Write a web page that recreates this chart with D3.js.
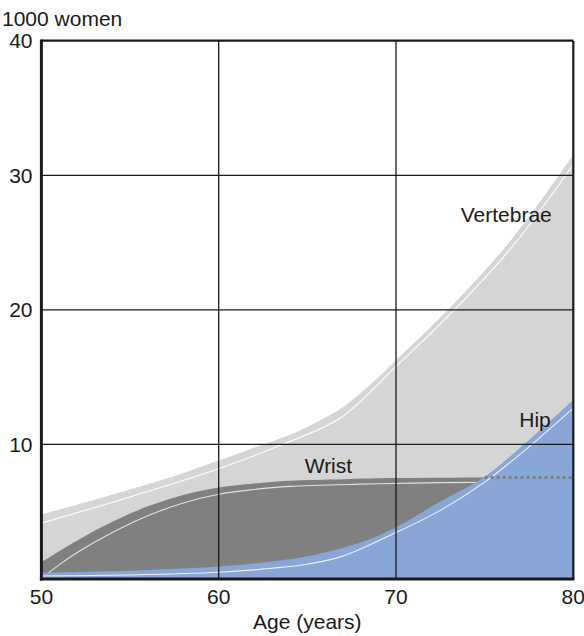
<!DOCTYPE html>
<html>
<head>
<meta charset="utf-8">
<script src="https://cdn.jsdelivr.net/npm/d3@7/dist/d3.min.js"></script>
<style>
  html, body { margin: 0; padding: 0; background: #fff; }
  svg text { font-family: "Liberation Sans", Arial, Helvetica, sans-serif; fill: #1a1a1a; }
</style>
</head>
<body>
<svg id="chart" width="584" height="636"></svg>
<script>
// ---- data ----
const vertebraeAges   = [50, 52.5, 55, 57.5, 60, 62, 63.5, 65, 66.3, 67.2, 69.1, 70, 73, 76.5, 80];
const vertebraeValues = [4.8, 5.7, 6.65, 7.65, 8.8, 9.75, 10.45, 11.3, 12.2, 12.95, 15.1, 16.25, 20.1, 25.2, 31.5];
const vertebraeHiAges   = [50, 55, 60, 63.5, 66.9, 70, 73, 76.5, 80];
const vertebraeHiValues = [4.15, 6.1, 8.2, 9.95, 12.0, 15.8, 19.6, 24.6, 30.8];

const wristAges   = [50, 52, 54, 56, 58, 60, 62, 64, 67, 70, 75, 80];
const wristValues = [1.25, 2.85, 4.25, 5.4, 6.25, 6.8, 7.1, 7.3, 7.42, 7.5, 7.55, 7.55];
const wristHiAges   = [50, 51, 52, 54, 56, 58, 60, 62, 64, 68, 72.5, 80];
const wristHiValues = [0.05, 1.05, 1.95, 3.45, 4.7, 5.65, 6.3, 6.65, 6.88, 7.05, 7.16, 7.22];
const wristProjectedFrom = 75;

const hipAges   = [50, 55, 60, 63, 65.4, 68.2, 70, 72.5, 75, 77.3, 80];
const hipValues = [0.47, 0.62, 0.92, 1.3, 1.78, 2.8, 3.85, 5.75, 7.6, 10.1, 13.3];
const hipHiAges   = [50, 55, 60, 63, 65, 67, 70, 72.5, 75, 77.3, 80];
const hipHiValues = [0.22, 0.3, 0.5, 0.8, 1.1, 1.7, 3.45, 5.1, 7.2, 9.6, 12.7];

const xTicks = [50, 60, 70, 80];
const yTicks = [10, 20, 30, 40];
const yUnitLabel = "1000 women";
const xAxisTitle = "Age (years)";
const seriesLabels = [
  {name: "Vertebrae", age: 73.65, value: 26.5},
  {name: "Wrist", age: 64.85, value: 7.9},
  {name: "Hip", age: 76.95, value: 11.27}
];

// ---- layout ----
const svg = d3.select("#chart");
const pLeft = 41.4, pRight = 573.3, pTop = 40.7, pBottom = 579;
const x = d3.scaleLinear().domain([50, 80]).range([pLeft, pRight]);
const y = d3.scaleLinear().domain([0, 40]).range([pBottom, pTop]);

const zip = (a, v) => a.map((d, i) => ({age: d, v: v[i]}));
const curve = d3.curveCatmullRom.alpha(0.5);
const area = d3.area().x(d => x(d.age)).y0(y(0)).y1(d => y(d.v)).curve(curve);
const line = d3.line().x(d => x(d.age)).y(d => y(d.v)).curve(curve);

svg.append("defs").append("clipPath").attr("id", "plotClip")
  .append("rect").attr("x", pLeft).attr("y", pTop).attr("width", pRight - pLeft).attr("height", pBottom - pTop);

const g = svg.append("g").attr("clip-path", "url(#plotClip)");

// vertebrae
g.append("path").datum(zip(vertebraeAges, vertebraeValues)).attr("d", area).attr("fill", "#d4d5d4");
g.append("path").datum(zip(vertebraeHiAges, vertebraeHiValues)).attr("d", line)
  .attr("fill", "none").attr("stroke", "#ffffff").attr("stroke-width", 1.1);

// wrist
g.append("path").datum(zip(wristAges, wristValues)).attr("d", area).attr("fill", "#808080");
g.append("path").datum(zip(wristHiAges, wristHiValues)).attr("d", line)
  .attr("fill", "none").attr("stroke", "#e2e2e2").attr("stroke-width", 1.1);

// hip
g.append("path").datum(zip(hipAges, hipValues)).attr("d", area).attr("fill", "#88a7d6");
g.append("path").datum(zip(hipHiAges, hipHiValues)).attr("d", line)
  .attr("fill", "none").attr("stroke", "#eef2fa").attr("stroke-width", 1.1);

// wrist projected (dotted) over hip
g.append("path").datum(zip(wristAges, wristValues).filter(d => d.age >= wristProjectedFrom))
  .attr("d", line).attr("fill", "none").attr("stroke", "#7f7f7f")
  .attr("stroke-width", 3).attr("stroke-dasharray", "3,3");

// grid
svg.append("g").selectAll("line").data(xTicks.filter(t => t > 50 && t < 80)).join("line")
  .attr("x1", d => x(d)).attr("x2", d => x(d)).attr("y1", pTop).attr("y2", pBottom)
  .attr("stroke", "#1a1a1a").attr("stroke-width", 1.3);
svg.append("g").selectAll("line").data(yTicks.filter(t => t < 40)).join("line")
  .attr("x1", pLeft).attr("x2", pRight).attr("y1", d => y(d)).attr("y2", d => y(d))
  .attr("stroke", "#1a1a1a").attr("stroke-width", 1.3);

// frame
svg.append("line").attr("x1", pLeft).attr("x2", pRight).attr("y1", pTop).attr("y2", pTop)
  .attr("stroke", "#1a1a1a").attr("stroke-width", 2.2);
svg.append("line").attr("x1", pRight).attr("x2", pRight).attr("y1", pTop).attr("y2", pBottom)
  .attr("stroke", "#1a1a1a").attr("stroke-width", 2.2);
svg.append("line").attr("x1", pLeft).attr("x2", pLeft).attr("y1", pTop - 1.1).attr("y2", pBottom + 1.5)
  .attr("stroke", "#1a1a1a").attr("stroke-width", 3);
svg.append("line").attr("x1", pLeft - 1.5).attr("x2", pRight + 1.1).attr("y1", pBottom).attr("y2", pBottom)
  .attr("stroke", "#1a1a1a").attr("stroke-width", 3);

// tick labels
svg.append("g").selectAll("text").data(yTicks).join("text")
  .attr("x", 32.5).attr("y", d => y(d)).attr("dy", "0.36em")
  .attr("text-anchor", "end").attr("font-size", 21).text(d => d);
svg.append("g").selectAll("text").data(xTicks).join("text")
  .attr("x", d => x(d)).attr("y", 603.5)
  .attr("text-anchor", "middle").attr("font-size", 21).text(d => d);

svg.append("text").attr("x", 2).attr("y", 25.5).attr("font-size", 21).text(yUnitLabel);
svg.append("text").attr("x", (pLeft + pRight) / 2).attr("y", 628.5)
  .attr("text-anchor", "middle").attr("font-size", 21).text(xAxisTitle);

// series labels
svg.append("g").selectAll("text").data(seriesLabels).join("text")
  .attr("x", d => x(d.age)).attr("y", d => y(d.value))
  .attr("text-anchor", "start").attr("font-size", 21).text(d => d.name);
</script>
</body>
</html>
